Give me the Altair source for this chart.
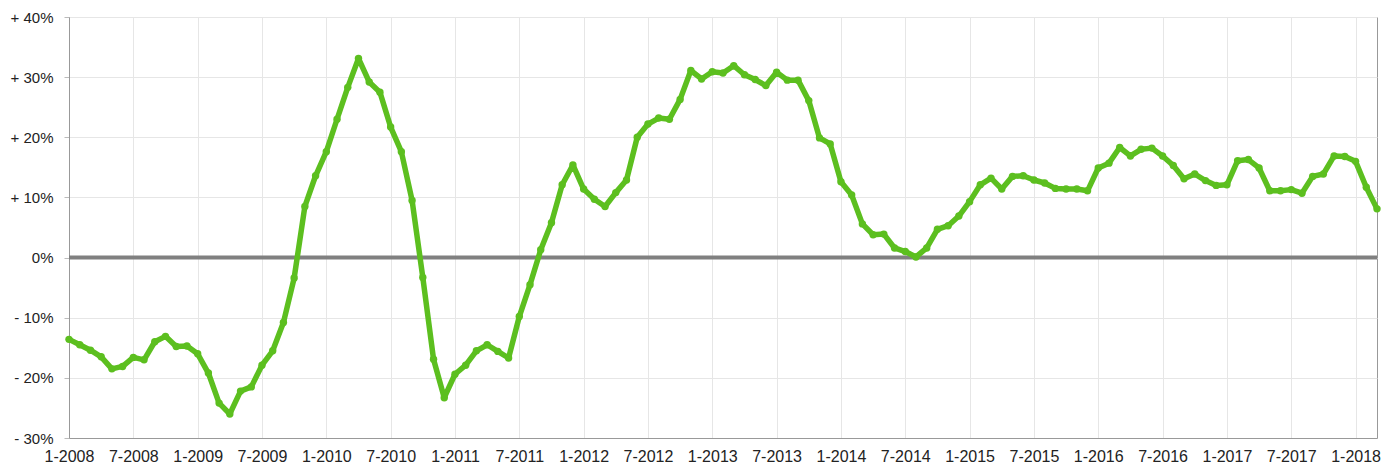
import altair as alt
import pandas as pd

# monthly values (%) from 1-2008 to 3-2018
values = [
    -13.6, -14.5, -15.4, -16.5, -18.5, -18.1, -16.6, -17.0, -14.0, -13.1, -14.8, -14.7,
    -16.0, -19.2, -24.2, -26.0, -22.2, -21.5, -17.9, -15.5, -10.8, -3.4, 8.5, 13.6,
    17.6, 23.0, 28.3, 33.1, 29.2, 27.5, 21.7, 17.6, 9.5, -3.3, -16.9, -23.3,
    -19.4, -17.9, -15.5, -14.5, -15.6, -16.7, -9.8, -4.5, 1.3, 5.8, 12.1, 15.4,
    11.4, 9.7, 8.5, 10.8, 12.9, 20.0, 22.2, 23.2, 23.0, 26.3, 31.1, 29.7,
    30.9, 30.7, 31.9, 30.4, 29.6, 28.6, 30.8, 29.5, 29.5, 26.1, 19.9, 18.9,
    12.6, 10.4, 5.6, 3.8, 3.9, 1.6, 1.0, 0.1, 1.6, 4.7, 5.3, 6.9,
    9.3, 12.1, 13.2, 11.4, 13.5, 13.6, 12.9, 12.4, 11.5, 11.4, 11.4, 11.1,
    14.9, 15.7, 18.3, 16.9, 18.0, 18.2, 16.9, 15.3, 13.1, 13.9, 12.8, 12.0,
    12.1, 16.1, 16.3, 14.9, 11.1, 11.1, 11.3, 10.7, 13.5, 13.9, 16.9, 16.8,
    16.0, 11.7, 8.1,
]
start_year = 2008
months = [f"{(i % 12) + 1}-{start_year + i // 12}" for i in range(len(values))]
x_tick_labels = [
    "1-2008", "7-2008", "1-2009", "7-2009", "1-2010", "7-2010", "1-2011",
    "7-2011", "1-2012", "7-2012", "1-2013", "7-2013", "1-2014", "7-2014",
    "1-2015", "7-2015", "1-2016", "7-2016", "1-2017", "7-2017", "1-2018",
]
y_ticks = [-30, -20, -10, 0, 10, 20, 30, 40]

df = pd.DataFrame({"idx": list(range(len(values))), "month": months, "value": values})

label_arr = "[" + ",".join(f"'{s}'" for s in x_tick_labels) + "]"

GREEN = "#5cbf1f"
FONT = "Liberation Sans"

x_enc = alt.X(
    "idx:Q",
    scale=alt.Scale(domain=[0, len(values) - 1], nice=False, zero=False),
    axis=alt.Axis(
        values=[i * 6 for i in range(len(x_tick_labels))],
        labelExpr=f"{label_arr}[round(datum.value/6)]",
        labelOverlap=False,
        labelFlush=False,
        ticks=False,
        labelPadding=10,
        domainColor="#999999",
        gridColor="#e6e6e6",
        labelFontSize=16,
        labelFont=FONT,
        labelColor="#222222",
        title=None,
    ),
)
y_enc = alt.Y(
    "value:Q",
    scale=alt.Scale(domain=[-30, 40], nice=False),
    axis=alt.Axis(
        values=y_ticks,
        labelExpr="datum.value > 0 ? '+ ' + datum.value + '%' : (datum.value < 0 ? '- ' + (-datum.value) + '%' : '0%')",
        labelOverlap=False,
        labelFlush=False,
        tickSize=5,
        tickColor="#bbbbbb",
        labelPadding=11,
        domainColor="#999999",
        gridColor="#e6e6e6",
        labelFontSize=15,
        labelFont=FONT,
        labelColor="#222222",
        title=None,
    ),
)

base = alt.Chart(df)
line = base.mark_line(color=GREEN, strokeWidth=5.5, strokeJoin="round").encode(x=x_enc, y=y_enc)
pts = base.mark_circle(color=GREEN, size=55, opacity=1).encode(x="idx:Q", y="value:Q")
zero = alt.Chart(pd.DataFrame({"z": [0]})).mark_rule(color="#808080", strokeWidth=4).encode(y="z:Q")

chart = (
    alt.layer(zero, line, pts)
    .properties(
        width=1308,
        height=421,
        autosize=alt.AutoSizeParams(type="none"),
        padding={"left": 61, "top": 9, "right": 6, "bottom": 27},
    )
    .configure_view(stroke="#999999", strokeWidth=1)
    .configure_axis(gridWidth=1, domainWidth=1)
)

chart.save("out.html", embed_options={"renderer": "svg", "actions": False})
